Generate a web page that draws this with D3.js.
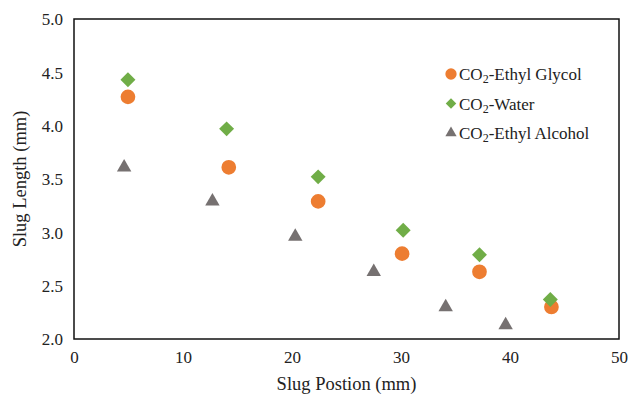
<!DOCTYPE html>
<html>
<head>
<meta charset="utf-8">
<script src="https://cdn.jsdelivr.net/npm/d3@7"></script>
<style>
  body { margin: 0; background: #fff; }
  text { font-family: "Liberation Serif", "Times New Roman", serif; fill: #222; }
</style>
</head>
<body>
<script>
// Slug position (mm) and slug length (mm) for each fluid pair
var glycolX = [4.95, 14.2, 22.4, 30.1, 37.2, 43.8],
    glycolY = [4.27, 3.61, 3.29, 2.80, 2.63, 2.30];
var waterX = [4.95, 14.0, 22.4, 30.2, 37.2, 43.7],
    waterY = [4.43, 3.97, 3.52, 3.02, 2.79, 2.37];
var alcoholX = [4.6, 12.7, 20.3, 27.5, 34.1, 39.6],
    alcoholY = [3.61, 3.29, 2.96, 2.63, 2.30, 2.13];
var xTicks = [0, 10, 20, 30, 40, 50],
    yTicks = [2.0, 2.5, 3.0, 3.5, 4.0, 4.5, 5.0];
var seriesNames = ["Ethyl Glycol", "Water", "Ethyl Alcohol"];

window.onload = drawChart();

function drawChart(){

    var width = 630,
        height = 397;
    var margin = {left: 74, right: 11, top: 19, bottom: 58};

    var svg = d3.select("body")
        .append("svg")
        .attr("width", width)
        .attr("height", height);

    var x = d3.scaleLinear()
        .domain([0, 50])
        .range([margin.left, width - margin.right]);

    var y = d3.scaleLinear()
        .domain([2, 5])
        .range([height - margin.bottom, margin.top]);

    // plot frame
    svg.append("rect")
        .attr("x", x(0))
        .attr("y", y(5))
        .attr("width", x(50) - x(0))
        .attr("height", y(2) - y(5))
        .attr("fill", "none")
        .attr("stroke", "#111")
        .attr("stroke-width", 1.5);

    // axes, labels only
    var xAxis = svg.append("g")
        .attr("transform", "translate(0," + y(2) + ")")
        .call(d3.axisBottom(x).tickValues(xTicks).tickSize(0).tickPadding(9).tickFormat(d3.format("d")));
    var yAxis = svg.append("g")
        .attr("transform", "translate(" + x(0) + ",0)")
        .call(d3.axisLeft(y).tickValues(yTicks).tickSize(0).tickPadding(11).tickFormat(d3.format(".1f")));
    [xAxis, yAxis].forEach(function(a){
        a.select(".domain").remove();
        a.selectAll("text")
            .attr("font-family", "Liberation Serif")
            .attr("font-size", 17)
            .attr("fill", "#222");
    });
    xAxis.selectAll("text").attr("dy", "0.9em");
    yAxis.selectAll("text").attr("dy", "0.35em");

    // axis titles
    svg.append("text")
        .attr("x", (x(0) + x(50)) / 2)
        .attr("y", 390)
        .attr("text-anchor", "middle")
        .attr("font-size", 18.5)
        .text("Slug Postion (mm)");

    svg.append("text")
        .attr("transform", "translate(26," + (y(3.5)) + ") rotate(-90)")
        .attr("text-anchor", "middle")
        .attr("font-size", 18.5)
        .text("Slug Length (mm)");

    var orange = "#ED7D31", green = "#70AD47", grey = "#767171";

    var circle = d3.symbol().type(d3.symbolCircle).size(170),
        diamond = d3.symbol().type(d3.symbolSquare).size(112),
        triangle = d3.symbol().type(d3.symbolTriangle).size(90);

    var series = [
        {xs: glycolX, ys: glycolY, sym: circle, color: orange, rot: 0},
        {xs: waterX, ys: waterY, sym: diamond, color: green, rot: 45},
        {xs: alcoholX, ys: alcoholY, sym: triangle, color: grey, rot: 0}
    ];

    // draw alcohol first, then glycol, then water on top
    [series[2], series[0], series[1]].forEach(function(s){
        svg.append("g").selectAll("path")
            .data(d3.range(s.xs.length))
            .enter()
            .append("path")
            .attr("d", s.sym)
            .attr("transform", function(i){
                return "translate(" + x(s.xs[i]) + "," + y(s.ys[i]) + ") rotate(" + s.rot + ")";
            })
            .attr("fill", s.color);
    });

    // legend
    var legendSyms = [
        d3.symbol().type(d3.symbolCircle).size(100),
        d3.symbol().type(d3.symbolSquare).size(55),
        d3.symbol().type(d3.symbolTriangle).size(55)
    ];
    var legend = svg.selectAll(".legend")
        .data(seriesNames)
        .enter()
        .append("g")
        .attr("class", "legend")
        .attr("transform", function(d, i){ return "translate(451," + (74 + i * 29.5) + ")"; });

    legend.append("path")
        .attr("d", function(d, i){ return legendSyms[i](); })
        .attr("transform", function(d, i){ return i === 1 ? "rotate(45)" : ""; })
        .attr("fill", function(d, i){ return series[i].color; });

    var lt = legend.append("text")
        .attr("x", 8)
        .attr("y", 6)
        .attr("font-size", 17);
    lt.append("tspan").text("CO");
    lt.append("tspan").attr("font-size", 12).attr("dy", 3).text("2");
    lt.append("tspan").attr("dy", -3).text(function(d){ return "-" + d; });
}
</script>
</body>
</html>
